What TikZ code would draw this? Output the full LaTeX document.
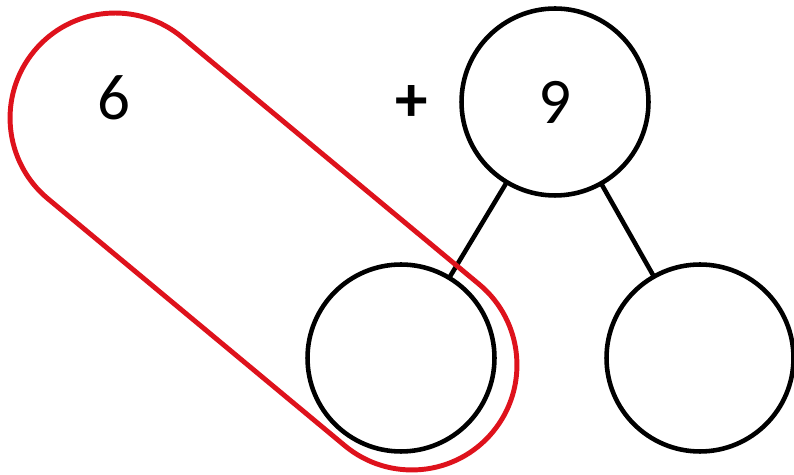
\documentclass[tikz,border=0pt]{standalone}
\usepackage{fontspec}
\setmainfont{Carlito}
\usepackage{xcolor}
\usepackage{tikz}
\usetikzlibrary{positioning}
\definecolor{bondred}{RGB}{222,18,28}
\tikzset{
  part/.style={draw, circle, line width=2.6pt, minimum size=3.74cm, inner sep=0pt, outer sep=0pt, font=\fontsize{37}{40}\selectfont},
  num/.style={inner sep=0pt, font=\fontsize{37}{40}\selectfont},
  link/.style={line width=2.6pt},
  group/.style={draw=bondred, line width=2.8pt},
}
\begin{document}
\begin{tikzpicture}[x=0.02cm, y=0.02cm]
  \useasboundingbox (0,0) rectangle (794,-475);
  \node[part] (whole) at (555,-102) {9};
  \node[part] (left) at (401,-358) {};
  \node[part] (right) at (700,-358) {};
  \node[num] (six) at (114,-98) {6};
  \node[num] (plus) at (412,-104) {\textbf{+}};
  \foreach \a/\b in {whole/left, whole/right} \draw[link] (\a) -- (\b);
  % red band round the 6 and the left part
  \draw[group, shift={(263.5,-241.5)}, rotate=-39.75]
    (-193.1,105) -- (193.1,105) arc[start angle=90, end angle=-90, radius=105]
    -- (-193.1,-105) arc[start angle=-90, end angle=-270, radius=105] -- cycle;
\end{tikzpicture}
\end{document}
